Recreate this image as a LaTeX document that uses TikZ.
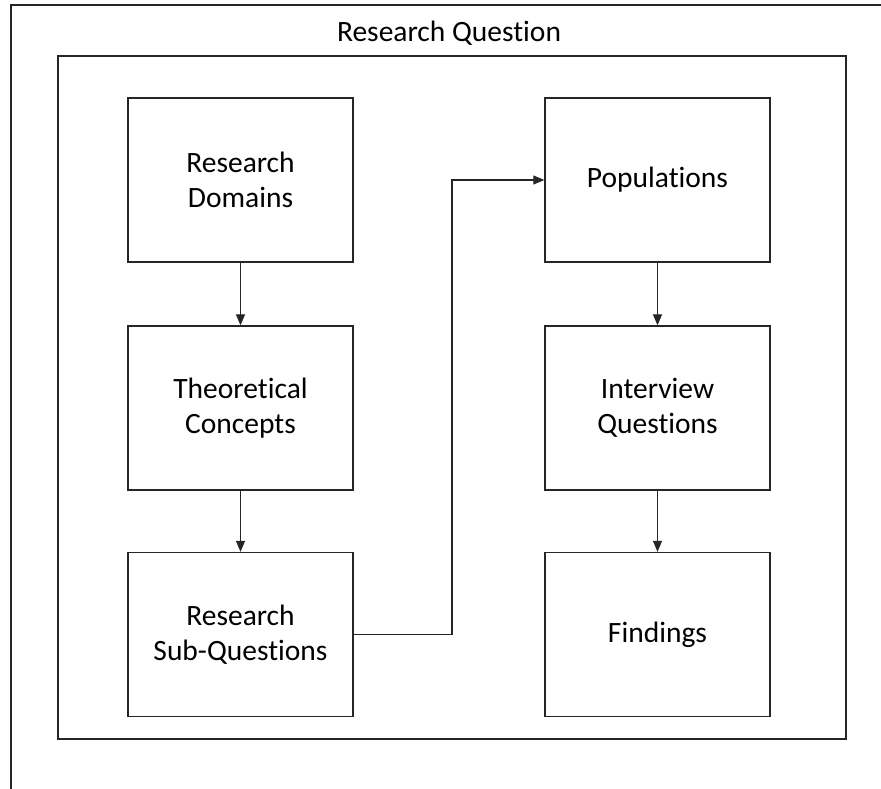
\documentclass[tikz,border=0pt]{standalone}
\usepackage{fontspec}
\setmainfont[Ligatures=NoCommon]{Carlito}
\usetikzlibrary{arrows.meta}
\begin{document}
\begin{tikzpicture}[x=1pt,y=-1pt,
  frameline/.style={draw=black!85, line width=1.3pt},
  stagebox/.style={frameline, minimum width=225pt, minimum height=164pt,
    align=center, inner sep=0pt, font=\fontsize{29.5}{34.5}\selectfont},
  flow/.style={draw=black!85, line width=1.1pt,
    -{Triangle[length=11pt,width=9pt]}},
  titletext/.style={font=\fontsize{29.5}{34.5}\selectfont, inner sep=0pt}
]
% canvas
\fill[white] (0,0) rectangle (881,788);
\useasboundingbox (0,0) rectangle (881,788);

% outer frame, only its top and left edges fall inside the canvas
\coordinate (outerTR) at (885,5);
\coordinate (outerTL) at (11,5);
\coordinate (outerBL) at (11,792);
\draw[frameline] (outerTR) -- (outerTL) -- (outerBL);

% title of the outer frame
\node[titletext, anchor=base] (title) at (449,41.7) {Research Question};

% inner frame
\node[frameline, minimum width=788pt, minimum height=683pt, inner sep=0pt]
  (inner) at (452,397.5) {};

% left column
\node[stagebox] (domains)  at (240.5,180)   {Research\\Domains};
\node[stagebox] (concepts) at (240.5,408)   {Theoretical\\Concepts};
\node[stagebox] (subq)     at (240.5,634.5) {Research\\Sub-Questions};

% right column
\node[stagebox] (pops)      at (657.5,180)   {Populations};
\node[stagebox] (interview) at (657.5,408)   {Interview\\Questions};
\node[stagebox] (findings)  at (657.5,634.5) {Findings};

% connectors
\draw[flow] (domains) -- (concepts);
\draw[flow] (concepts) -- (subq);
\coordinate (bend) at (452,400);
\draw[flow] (subq.east) -- (subq.east -| bend) |- (pops.west);
\draw[flow] (pops) -- (interview);
\draw[flow] (interview) -- (findings);
\end{tikzpicture}
\end{document}
